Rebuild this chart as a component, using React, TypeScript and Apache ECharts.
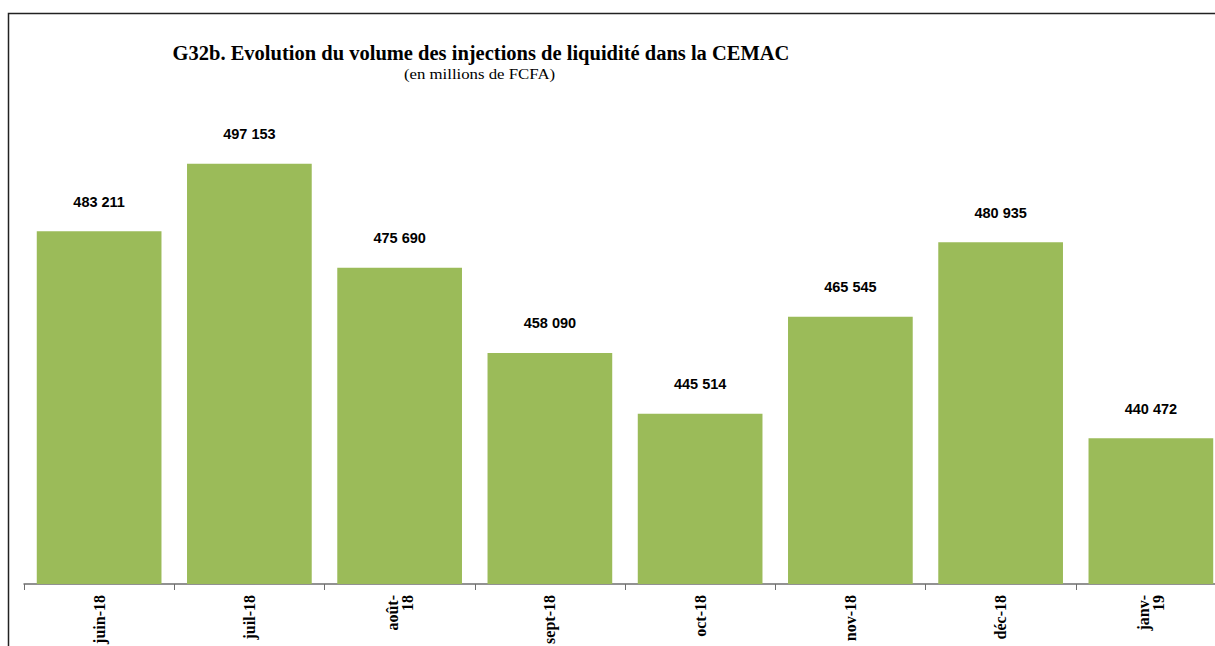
import React, { useEffect, useRef } from "react";
import * as echarts from "echarts";

const categories = ["juin-18", "juil-18", "août-\n18", "sept-18", "oct-18", "nov-18", "déc-18", "janv-\n19"];
const values = [483211, 497153, 475690, 458090, 445514, 465545, 480935, 440472];
const titleText = "G32b. Evolution du volume des injections de liquidité dans la CEMAC";
const subtitleText = "(en millions de FCFA)";

const fmt = (v: number) => String(v).replace(/\B(?=(\d{3})+(?!\d))/g, " ");

export default function App() {
  const ref = useRef<HTMLDivElement>(null);
  useEffect(() => {
    if (!ref.current) return;
    const chart = echarts.init(ref.current, null, { renderer: "svg" });
    chart.setOption({
      animation: false,
      backgroundColor: "#ffffff",
      graphic: [
        {
          type: "text",
          x: 481,
          y: 53,
          style: {
            text: titleText,
            align: "center",
            verticalAlign: "middle",
            fontFamily: "Liberation Serif",
            fontWeight: "bold",
            fontSize: 20.5,
            fill: "#000",
          },
          silent: true,
        },
        {
          type: "text",
          x: 479.5,
          y: 74,
          scaleX: 1.12,
          style: {
            text: subtitleText,
            align: "center",
            verticalAlign: "middle",
            fontFamily: "Liberation Serif",
            fontWeight: "normal",
            fontSize: 15,
            fill: "#000",
          },
          silent: true,
        },
        {
          type: "rect",
          shape: { x: 8.5, y: 13.5, width: 1400, height: 800 },
          style: { fill: "none", stroke: "#222", lineWidth: 1.5 },
          silent: true,
          z: 100,
        },
      ],
      grid: {
        left: 24,
        width: 1202,
        top: 51,
        bottom: 62,
        containLabel: false,
        outerBoundsMode: "none",
      },
      xAxis: {
        type: "category",
        data: categories,
        boundaryGap: true,
        axisLine: { show: true, lineStyle: { color: "#6e6e6e", width: 1.5 } },
        axisTick: { show: true, alignWithLabel: false, length: 6, lineStyle: { color: "#6e6e6e", width: 1 } },
        axisLabel: {
          rotate: 90,
          interval: 0,
          margin: 11,
          fontFamily: "Liberation Serif",
          fontWeight: "bold",
          fontSize: 16,
          lineHeight: 15,
          color: "#000",
        },
      },
      yAxis: {
        type: "value",
        min: 410400,
        max: 520400,
        show: false,
        splitLine: { show: false },
      },
      series: [
        {
          type: "bar",
          data: values,
          barCategoryGap: "17%",
          itemStyle: { color: "#9BBB59" },
          label: {
            show: true,
            position: "top",
            distance: 22,
            formatter: (p: any) => fmt(p.value),
            fontFamily: "Liberation Sans",
            fontWeight: "bold",
            fontSize: 14.5,
            color: "#000",
          },
        },
      ],
    });
    return () => chart.dispose();
  }, []);
  return <div ref={ref} style={{ position: "fixed", left: 0, top: 0, width: 1215, height: 646 }} />;
}
